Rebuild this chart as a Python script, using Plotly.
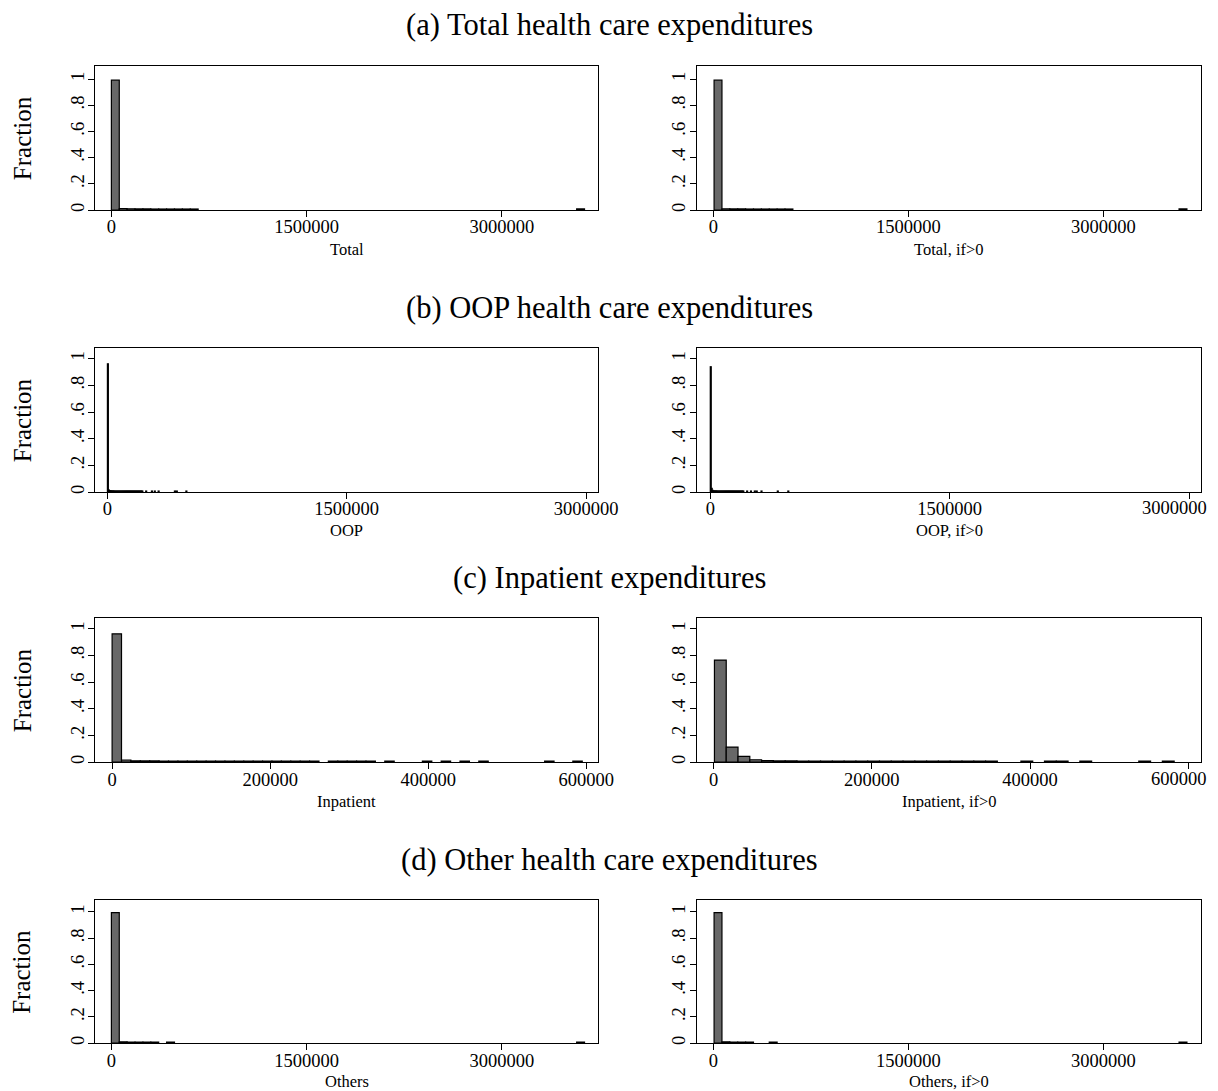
import plotly.graph_objects as go

FONT = "Liberation Serif"
W, H = 1218, 1091
OFF = 8            # browser default body margin
SX, SY = 0.984, 0.998  # observed page-to-picture scaling
FW, FH = 1240, 1088
RIGHT_LIMIT = 1209  # last visible picture column for text

# ---------------- data (fraction of observations per histogram bin) ----------------
# (a) Total
total_start, total_width = 0, 60600
total_bin = [0, 1, 2, 3, 4, 5, 6, 7, 8, 9, 10, 59]
total_frac = [0.992, 0.012, 0.010, 0.009, 0.009, 0.008, 0.008, 0.008, 0.008, 0.008, 0.008, 0.009]

total_pos_start, total_pos_width = 6000, 60600
total_pos_bin = [0, 1, 2, 3, 4, 5, 6, 7, 8, 9, 59]
total_pos_frac = [0.992, 0.010, 0.009, 0.009, 0.008, 0.008, 0.008, 0.008, 0.008, 0.008, 0.009]

# (b) OOP
oop_start, oop_width = 0, 6000
oop_bin = [0, 1, 2, 3, 4, 5, 6, 7, 8, 9, 10, 11, 12, 13, 14, 15, 16, 17, 18, 19, 20,
           21, 22, 23, 24, 25, 26, 27, 28, 29, 30, 31, 32, 33, 34, 35, 36,
           40, 46, 49, 53, 70, 72, 82]
oop_frac = [0.962, 0.016, 0.011, 0.010, 0.009, 0.009, 0.009, 0.008, 0.008, 0.008, 0.008,
            0.008, 0.008, 0.008, 0.008, 0.008, 0.008, 0.008, 0.008, 0.008, 0.008,
            0.008, 0.008, 0.008, 0.008, 0.008, 0.008, 0.008, 0.008, 0.008, 0.008,
            0.008, 0.008, 0.008, 0.008, 0.008, 0.008,
            0.008, 0.008, 0.008, 0.008, 0.008, 0.008, 0.008]

oop_pos_start, oop_pos_width = 0, 6000
oop_pos_bin = [0, 1, 2, 3, 4, 5, 6, 7, 8, 9, 10, 11, 12, 13, 14, 15, 16, 17, 18, 19, 20,
               21, 22, 23, 24, 25, 26, 27, 28, 29, 30, 31, 32, 33, 34,
               38, 42, 46, 48, 53, 70, 81]
oop_pos_frac = [0.940, 0.028, 0.013, 0.010, 0.009, 0.009, 0.009, 0.008, 0.008, 0.008, 0.008,
                0.008, 0.008, 0.008, 0.008, 0.008, 0.008, 0.008, 0.008, 0.008, 0.008,
                0.008, 0.008, 0.008, 0.008, 0.008, 0.008, 0.008, 0.008, 0.008, 0.008,
                0.008, 0.008, 0.008, 0.008,
                0.008, 0.008, 0.008, 0.008, 0.008, 0.008, 0.008]

# (c) Inpatient
inp_start, inp_width = 0, 11900
inp_bin = [0, 1, 2, 3, 4, 5, 6, 7, 8, 9, 10, 11, 12, 13, 14, 15, 16, 17, 18, 19, 20, 21,
           23, 24, 25, 26, 27, 29, 33, 35, 37, 39, 46, 49]
inp_frac = [0.962, 0.016, 0.010, 0.009, 0.009, 0.008, 0.008, 0.008, 0.008, 0.008, 0.008,
            0.008, 0.008, 0.008, 0.008, 0.008, 0.008, 0.008, 0.008, 0.008, 0.008, 0.008,
            0.008, 0.008, 0.008, 0.008, 0.008, 0.008, 0.008, 0.008, 0.008, 0.008, 0.008, 0.008]

inp_pos_start, inp_pos_width = 1000, 14900
inp_pos_bin = [0, 1, 2, 3, 4, 5, 6, 7, 8, 9, 10, 11, 12, 13, 14, 15, 16, 17, 18, 19, 20,
               21, 22, 23, 26, 28, 29, 31, 36, 38]
inp_pos_frac = [0.765, 0.113, 0.043, 0.018, 0.011, 0.009, 0.009, 0.008, 0.008, 0.008, 0.008,
                0.008, 0.008, 0.008, 0.008, 0.008, 0.008, 0.008, 0.008, 0.008, 0.008,
                0.008, 0.008, 0.008, 0.008, 0.008, 0.008, 0.008, 0.008, 0.008]

# (d) Others
oth_start, oth_width = 0, 60600
oth_bin = [0, 1, 2, 3, 4, 5, 7, 59]
oth_frac = [0.995, 0.010, 0.009, 0.008, 0.008, 0.008, 0.009, 0.009]

oth_pos_start, oth_pos_width = 6000, 60600
oth_pos_bin = [0, 1, 2, 3, 4, 7, 59]
oth_pos_frac = [0.995, 0.010, 0.009, 0.008, 0.008, 0.009, 0.009]

# tick labels
big_ticks = [0, 1500000, 3000000]
big_tick_text = ["0", "1500000", "3000000"]
inp_ticks = [0, 200000, 400000, 600000]
inp_tick_text = ["0", "200000", "400000", "600000"]
y_ticks = [0, 0.2, 0.4, 0.6, 0.8, 1]
y_tick_text = ["0", ".2", ".4", ".6", ".8", "1"]

row_titles = ["(a) Total health care expenditures", "(b) OOP health care expenditures",
              "(c) Inpatient expenditures", "(d) Other health care expenditures"]

# ---------------- layout geometry (target picture pixels) ----------------
left_px = (95, 598)
right_px = (697, 1201)
rows_px = [(66, 210), (348, 492), (618, 762), (900, 1043)]
row_title_y = [25, 308, 578, 860]
xtitle_y = [249, 530, 801, 1081]
ticklabel_y = [226, 508, 779, 1060]
y_top = [1.10, 1.08, 1.08, 1.09]


def px_x(p):
    return (p / SX - OFF) / FW


def px_y(p):
    return 1 - (p / SY - OFF) / FH


panels = [
    (total_start, total_width, total_bin, total_frac, 0, 0, [-125000, 3740000], big_ticks, big_tick_text, "Total"),
    (total_pos_start, total_pos_width, total_pos_bin, total_pos_frac, 0, 1, [-125000, 3750000], big_ticks, big_tick_text, "Total, if>0"),
    (oop_start, oop_width, oop_bin, oop_frac, 1, 0, [-77000, 3075000], big_ticks, big_tick_text, "OOP"),
    (oop_pos_start, oop_pos_width, oop_pos_bin, oop_pos_frac, 1, 1, [-83000, 3075000], big_ticks, big_tick_text, "OOP, if>0"),
    (inp_start, inp_width, inp_bin, inp_frac, 2, 0, [-21500, 615000], inp_ticks, inp_tick_text, "Inpatient"),
    (inp_pos_start, inp_pos_width, inp_pos_bin, inp_pos_frac, 2, 1, [-21000, 616000], inp_ticks, inp_tick_text, "Inpatient, if>0"),
    (oth_start, oth_width, oth_bin, oth_frac, 3, 0, [-125000, 3740000], big_ticks, big_tick_text, "Others"),
    (oth_pos_start, oth_pos_width, oth_pos_bin, oth_pos_frac, 3, 1, [-125000, 3750000], big_ticks, big_tick_text, "Others, if>0"),
]

fig = go.Figure()
layout = dict(
    width=FW, height=FH,
    margin=dict(l=0, r=0, t=0, b=0),
    paper_bgcolor="white", plot_bgcolor="white",
    showlegend=False,
    font=dict(family=FONT, color="black"),
)
annotations = []
TICK_FONT = dict(family=FONT, size=18.5, color="black")

for i, (start, width, bins, fracs, row, side, xr, tv, tt, xtitle) in enumerate(panels, start=1):
    sfx = "" if i == 1 else str(i)
    centers = [start + (b + 0.5) * width for b in bins]
    fig.add_trace(go.Bar(
        x=centers, y=fracs, width=width,
        marker=dict(color="#686868", line=dict(color="black", width=1.2)),
        xaxis="x" + sfx, yaxis="y" + sfx, hoverinfo="skip",
    ))
    xp = left_px if side == 0 else right_px
    yp = rows_px[row]
    xdom = [px_x(xp[0]), px_x(xp[1])]
    ydom = [px_y(yp[1]), px_y(yp[0])]

    # where the last tick label would run past the visible right edge,
    # draw it as a right-aligned text instead
    labels = list(tt)
    last_px = xp[0] + (tv[-1] - xr[0]) / (xr[1] - xr[0]) * (xp[1] - xp[0])
    half_w = len(tt[-1]) * 0.5 * TICK_FONT["size"] * SX / 2
    if side == 1 and last_px + half_w > RIGHT_LIMIT:
        annotations.append(dict(
            text=tt[-1], x=px_x(RIGHT_LIMIT), y=px_y(ticklabel_y[row]),
            xref="paper", yref="paper", showarrow=False, xanchor="right", yanchor="middle",
            font=TICK_FONT,
        ))
        labels[-1] = ""

    common = dict(showline=True, mirror=True, linecolor="black", linewidth=1.4,
                  ticks="outside", ticklen=6, tickwidth=1.2, tickcolor="black",
                  showgrid=False, zeroline=False, fixedrange=True)
    layout["xaxis" + sfx] = dict(domain=xdom, range=xr, anchor="y" + sfx,
                                 tickmode="array", tickvals=tv, ticktext=labels,
                                 tickfont=TICK_FONT, ticklabelstandoff=-6,
                                 **common)
    layout["yaxis" + sfx] = dict(domain=ydom, range=[0, y_top[row]], anchor="x" + sfx,
                                 tickmode="array", tickvals=y_ticks, ticktext=y_tick_text,
                                 tickangle=-90, ticklabelstandoff=-3,
                                 tickfont=TICK_FONT,
                                 **common)
    annotations.append(dict(
        text=xtitle, x=px_x((xp[0] + xp[1]) / 2), y=px_y(xtitle_y[row]),
        xref="paper", yref="paper", showarrow=False, xanchor="center", yanchor="middle",
        font=dict(family=FONT, size=16.5, color="black"),
    ))
    if side == 0:
        annotations.append(dict(
            text="Fraction", x=px_x(22), y=px_y((yp[0] + yp[1]) / 2),
            xref="paper", yref="paper", showarrow=False, textangle=-90,
            xanchor="center", yanchor="middle",
            font=dict(family=FONT, size=25, color="black"),
        ))

for r, t in enumerate(row_titles):
    annotations.append(dict(
        text=t, x=px_x(W / 2), y=px_y(row_title_y[r]), xref="paper", yref="paper",
        showarrow=False, xanchor="center", yanchor="middle",
        font=dict(family=FONT, size=30.5, color="black"),
    ))

layout["annotations"] = annotations
fig.update_layout(**layout)
fig.write_html("out.html")
